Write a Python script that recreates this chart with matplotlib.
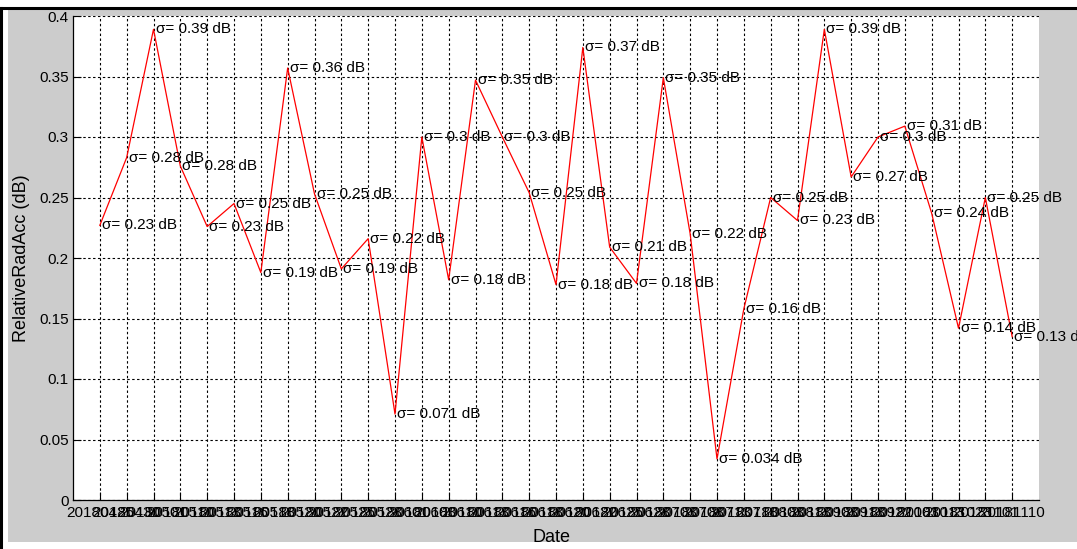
import matplotlib
matplotlib.use('Agg')
import matplotlib.pyplot as plt
from matplotlib.patches import Rectangle
from matplotlib.lines import Line2D

# datas (eixo x) e valores de precisão radiométrica relativa
dates = ['20180425', '20180430', '20180501', '20180510', '20180513', '20180516',
         '20180518', '20180520', '20180522', '20180525', '20180528', '20180601',
         '20180603', '20180610', '20180613', '20180616', '20180618', '20180620',
         '20180622', '20180625', '20180628', '20180703', '20180708', '20180713',
         '20180718', '20180803', '20180813', '20180903', '20180913', '20180922',
         '20181003', '20181013', '20181023', '20181101', '20181110']
values = [0.227, 0.283, 0.389, 0.276, 0.226, 0.245, 0.188, 0.357, 0.253, 0.191,
          0.216, 0.071, 0.300, 0.182, 0.347, 0.300, 0.254, 0.178, 0.374, 0.209,
          0.179, 0.349, 0.220, 0.034, 0.158, 0.250, 0.231, 0.389, 0.267, 0.300,
          0.309, 0.237, 0.142, 0.250, 0.135]
labels = ['0.23', '0.28', '0.39', '0.28', '0.23', '0.25', '0.19', '0.36', '0.25', '0.19',
          '0.22', '0.071', '0.3', '0.18', '0.35', '0.3', '0.25', '0.18', '0.37', '0.21',
          '0.18', '0.35', '0.22', '0.034', '0.16', '0.25', '0.23', '0.39', '0.27', '0.3',
          '0.31', '0.24', '0.14', '0.25', '0.13']

plt.rcParams['font.family'] = ['Liberation Sans', 'DejaVu Sans']

W, H = 1077, 549
fig = plt.figure(figsize=(W / 100, H / 100), dpi=100, facecolor='white')

# fundo cinza estilo MATLAB com borda preta em cima e à esquerda
fig.patches.append(Rectangle((8 / W, 1 - 542 / H), (W - 8) / W, (542 - 10) / H,
                             transform=fig.transFigure, facecolor='#cccccc',
                             edgecolor='none', zorder=-10))
fig.lines.append(Line2D([0, 1], [1 - 8 / H, 1 - 8 / H], transform=fig.transFigure,
                        color='black', linewidth=2.2, zorder=-5))
fig.lines.append(Line2D([1 / W, 1 / W], [0, 1 - 8 / H], transform=fig.transFigure,
                        color='black', linewidth=2.2, zorder=-5))

ax = fig.add_axes([73 / W, 1 - 500 / H, 966 / W, 484 / H])
x = list(range(1, len(values) + 1))
ax.plot(x, values, color='red', linewidth=0.9, zorder=3)

for xi, v, lab in zip(x, values, labels):
    ax.text(xi + 0.08, v, f'σ= {lab} dB', fontsize=11, ha='left', va='center',
            color='black', zorder=4)

ax.set_xlim(0, len(values) + 1)
ax.set_ylim(0, 0.4)
ax.set_xticks(x)
ax.set_xticklabels(dates, fontsize=11)
ax.set_yticks([0, 0.05, 0.1, 0.15, 0.2, 0.25, 0.3, 0.35, 0.4])
ax.set_yticklabels(['0', '0.05', '0.1', '0.15', '0.2', '0.25', '0.3', '0.35', '0.4'],
                   fontsize=11)
ax.tick_params(axis='x', direction='in', length=6, width=0.8, pad=4)
ax.tick_params(axis='y', direction='in', length=6, width=0.8, pad=3)

ax.grid(True, color='black', linestyle=(0, (2.2, 2.2)), linewidth=0.8)
ax.set_axisbelow(True)
for side in ['top', 'right']:
    ax.spines[side].set_visible(False)
for side in ['left', 'bottom']:
    ax.spines[side].set_linewidth(0.9)

ax.set_xlabel('Date', fontsize=13)
ax.xaxis.set_label_coords(479 / 966, -37 / 484)
ax.xaxis.label.set_va('center')
ax.set_ylabel('RelativeRadAcc (dB)', fontsize=13)
ax.yaxis.set_label_coords(-51 / 966, 0.5)
ax.yaxis.label.set_va('center')

fig.savefig('out.png', dpi=100, facecolor='white')
